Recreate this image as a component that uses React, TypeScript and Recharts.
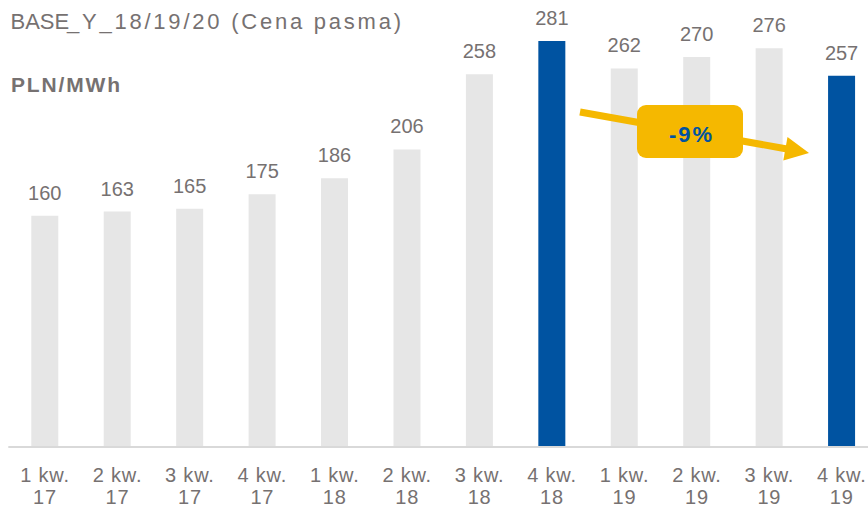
import React from "react";
import { BarChart, Bar, XAxis, YAxis, LabelList, Cell } from "recharts";

const quarters = ["1 kw.", "2 kw.", "3 kw.", "4 kw.", "1 kw.", "2 kw.", "3 kw.", "4 kw.", "1 kw.", "2 kw.", "3 kw.", "4 kw."];
const years = ["17", "17", "17", "17", "18", "18", "18", "18", "19", "19", "19", "19"];
const prices = [160, 163, 165, 175, 186, 206, 258, 281, 262, 270, 276, 257];
const highlighted = [false, false, false, false, false, false, false, true, false, false, false, true];

const titleHead = "BASE";
const titleTail = "_Y_18/19/20 (Cena pasma)";
const unit = "PLN/MWh";
const changeLabel = "-9%";

const data = prices.map((v, i) => ({
  key: `${quarters[i]}|${years[i]}`,
  value: v,
  hl: highlighted[i],
}));

const TEXT = "#767171";
const GRAY = "#E6E6E6";
const BLUE = "#0053A1";
const YELLOW = "#F5B800";
const FONT = "'Liberation Sans', Arial, sans-serif";

const Tick = (props: any) => {
  const { x, y, payload } = props;
  const [q, yr] = String(payload.value).split("|");
  return (
    <g>
      <text x={x + 0.5} y={y + 34.5} textAnchor="middle" fontSize={20} letterSpacing={0.8} fill={TEXT} fontFamily={FONT}>
        {q}
      </text>
      <text x={x + 0.5} y={y + 57} textAnchor="middle" fontSize={20} letterSpacing={0.8} fill={TEXT} fontFamily={FONT}>
        {yr}
      </text>
    </g>
  );
};

const ValueLabel = (props: any) => {
  const { x, y, width, value } = props;
  return (
    <text x={x + width / 2} y={y - 16} textAnchor="middle" fontSize={20} fill={TEXT} fontFamily={FONT}>
      {value}
    </text>
  );
};

export default function App() {
  return (
    <div style={{ position: "absolute", left: 0, top: 0, width: 868, height: 507, overflow: "hidden", background: "#fff" }}>
      <BarChart
        width={878}
        height={507}
        data={data}
        margin={{ top: 13.6, right: 0.5, bottom: 0, left: 8.3 }}
      >
        <YAxis hide domain={[0, 300]} />
        <XAxis
          dataKey="key"
          height={60}
          tickLine={false}
          tickSize={0}
          tickMargin={0}
          interval={0}
          axisLine={{ stroke: "#D9D9D9", strokeWidth: 2 }}
          tick={<Tick />}
        />
        <Bar dataKey="value" barSize={27} isAnimationActive={false}>
          {data.map((d, i) => (
            <Cell key={i} fill={d.hl ? BLUE : GRAY} />
          ))}
          <LabelList dataKey="value" content={<ValueLabel />} />
        </Bar>
      </BarChart>
      <svg
        width={868}
        height={507}
        style={{ position: "absolute", left: 0, top: 0, pointerEvents: "none" }}
      >
        <text y={28.5} fontSize={22} fill={TEXT} fontFamily={FONT}>
          <tspan x={10.5}>{titleHead}</tspan>
          <tspan x={67} textLength={334} lengthAdjust="spacing">{titleTail}</tspan>
        </text>
        <text x={11} y={91.5} fontSize={21} fontWeight="bold" fill={TEXT} fontFamily={FONT} textLength={109} lengthAdjust="spacing">
          {unit}
        </text>
        <line x1={580} y1={112} x2={787} y2={149} stroke={YELLOW} strokeWidth={7} />
        <polygon points="809,153 787.5,137 783.3,160.6" fill={YELLOW} />
        <rect x={637} y={105} width={106} height={53} rx={9} ry={9} fill={YELLOW} />
        <text x={669} y={141.5} fontSize={22} fontWeight="bold" fill={BLUE} fontFamily={FONT} textLength={43} lengthAdjust="spacing">
          {changeLabel}
        </text>
      </svg>
    </div>
  );
}
